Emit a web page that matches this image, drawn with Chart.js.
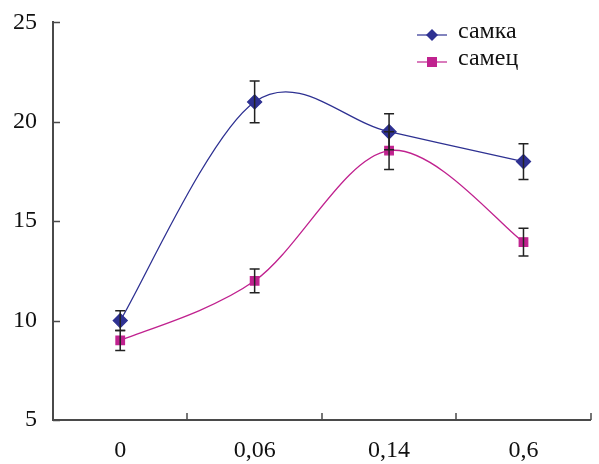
<!DOCTYPE html>
<html>
<head>
<meta charset="utf-8">
<script src="https://cdn.jsdelivr.net/npm/chart.js@4"></script>
<style>
  html, body { margin: 0; padding: 0; background: #fff; }
  #wrap { width: 599px; height: 464px; }
</style>
</head>
<body>
<div id="wrap"><canvas id="chart" width="599" height="464"></canvas></div>
<script>
// Chart data
const categories = ['0', '0,06', '0,14', '0,6'];
const femaleValues = [10, 21, 19.5, 18];
const femaleErrors = [0.5, 1.05, 0.9, 0.9];
const maleValues = [9, 12, 18.55, 13.95];
const maleErrors = [0.5, 0.6, 0.95, 0.7];
const yTicks = [5, 10, 15, 20, 25];

const axisColor = '#4a4a4a';
const blue = '#2E3192';
const magenta = '#C0228F';
const fontFamily = '"Liberation Serif", "DejaVu Serif", serif';

// Excel-style smoothing: control points at 1/6 of the neighbour span
const excelSmooth = {
    id: 'excelSmooth',
    afterDatasetsUpdate(chart) {
        chart.data.datasets.forEach((ds, di) => {
            const meta = chart.getDatasetMeta(di);
            const pts = meta.data;
            pts.forEach((p, i) => {
                const prev = pts[i - 1] || p;
                const next = pts[i + 1] || p;
                const dx = (next.x - prev.x) / 6;
                const dy = (next.y - prev.y) / 6;
                p.cp1x = p.x - dx; p.cp1y = p.y - dy;
                p.cp2x = p.x + dx; p.cp2y = p.y + dy;
            });
            if (meta.dataset) meta.dataset._pointsUpdated = true;
        });
    }
};

// Error bars drawn through the scales
const errorBars = {
    id: 'errorBars',
    afterDatasetsDraw(chart) {
        const ctx = chart.ctx;
        const x = chart.scales.x;
        const y = chart.scales.y;
        ctx.save();
        ctx.strokeStyle = '#222';
        ctx.lineWidth = 1.5;
        chart.data.datasets.forEach(ds => {
            ds.data.forEach((v, i) => {
                const e = ds.errors[i];
                const px = x.getPixelForValue(i);
                const top = y.getPixelForValue(v + e);
                const bot = y.getPixelForValue(v - e);
                ctx.beginPath();
                ctx.moveTo(px, top); ctx.lineTo(px, bot);
                ctx.moveTo(px - 5, top); ctx.lineTo(px + 5, top);
                ctx.moveTo(px - 5, bot); ctx.lineTo(px + 5, bot);
                ctx.stroke();
            });
        });
        ctx.restore();
    }
};

// Inward tick marks on both axes
const innerTicks = {
    id: 'innerTicks',
    afterDraw(chart) {
        const ctx = chart.ctx;
        const x = chart.scales.x;
        const y = chart.scales.y;
        const a = chart.chartArea;
        ctx.save();
        ctx.strokeStyle = axisColor;
        ctx.lineWidth = 1.5;
        ctx.beginPath();
        yTicks.forEach(t => {
            const py = Math.round(y.getPixelForValue(t)) + 0.5;
            ctx.moveTo(a.left, py); ctx.lineTo(a.left + 7, py);
        });
        for (let i = 0; i <= categories.length; i++) {
            const px = Math.round(x.getPixelForValue(i - 0.5));
            ctx.moveTo(px, a.bottom); ctx.lineTo(px, a.bottom - 7);
        }
        ctx.stroke();
        ctx.restore();
    }
};

// Legend with line + marker
const lineLegend = {
    id: 'lineLegend',
    afterDraw(chart) {
        const ctx = chart.ctx;
        ctx.save();
        chart.data.datasets.forEach((ds, i) => {
            const ly = 35 + i * 27;
            ctx.strokeStyle = ds.borderColor;
            ctx.lineWidth = 1.2;
            ctx.beginPath();
            ctx.moveTo(417, ly); ctx.lineTo(447, ly);
            ctx.stroke();
            ctx.fillStyle = ds.pointBackgroundColor;
            ctx.beginPath();
            if (ds.pointStyle === 'rectRot') {
                ctx.moveTo(432, ly - 6); ctx.lineTo(438, ly); ctx.lineTo(432, ly + 6); ctx.lineTo(426, ly);
            } else {
                ctx.rect(427, ly - 5, 10, 10);
            }
            ctx.closePath();
            ctx.fill();
            ctx.fillStyle = '#111';
            ctx.font = '24px ' + fontFamily;
            ctx.textBaseline = 'middle';
            ctx.fillText(ds.label, 458, ly - 3);
        });
        ctx.restore();
    }
};

const ctx = document.getElementById('chart').getContext('2d');
new Chart(ctx, {
    type: 'line',
    data: {
        labels: categories,
        datasets: [{
            label: 'самка',
            data: femaleValues,
            errors: femaleErrors,
            borderColor: blue,
            backgroundColor: blue,
            pointBackgroundColor: blue,
            pointBorderColor: blue,
            pointStyle: 'rectRot',
            pointRadius: 7,
            borderWidth: 1.3,
            tension: 0.4
        }, {
            label: 'самец',
            data: maleValues,
            errors: maleErrors,
            borderColor: magenta,
            backgroundColor: magenta,
            pointBackgroundColor: magenta,
            pointBorderColor: magenta,
            pointStyle: 'rect',
            pointRadius: 6,
            borderWidth: 1.3,
            tension: 0.4
        }]
    },
    options: {
        responsive: false,
        animation: false,
        layout: { padding: { top: 22, right: 5, left: 0, bottom: 0 } },
        plugins: {
            legend: { display: false },
            tooltip: { enabled: false }
        },
        scales: {
            x: {
                offset: true,
                grid: { display: false, offset: true },
                border: { color: axisColor, width: 2 },
                ticks: {
                    color: '#111',
                    font: { family: fontFamily, size: 24 },
                    padding: 8
                },
                afterFit(scale) { scale.height = 44; }
            },
            y: {
                min: 5,
                max: 25,
                grid: { display: false },
                border: { color: axisColor, width: 2 },
                afterBuildTicks(scale) { scale.ticks = yTicks.map(v => ({ value: v })); },
                ticks: {
                    color: '#111',
                    font: { family: fontFamily, size: 24 },
                    padding: 8
                },
                afterFit(scale) { scale.width = 53; }
            }
        }
    },
    plugins: [excelSmooth, errorBars, innerTicks, lineLegend]
});
</script>
</body>
</html>
